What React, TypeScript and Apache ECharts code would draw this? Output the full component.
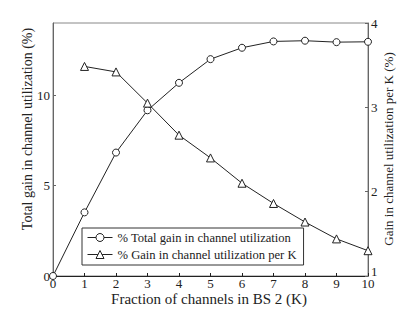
import React, { useEffect, useRef } from "react";
import * as echarts from "echarts";

const xValues = [0, 1, 2, 3, 4, 5, 6, 7, 8, 9, 10];
const totalGain = [0, 3.52, 6.83, 9.17, 10.69, 12.0, 12.63, 12.98, 13.02, 12.94, 12.96];
const gainPerK = [null, 3.485, 3.42, 3.05, 2.67, 2.4, 2.1, 1.86, 1.64, 1.44, 1.3];
const seriesNames = ["% Total gain in channel utilization", "% Gain in channel utilization per K"];
const xTitle = "Fraction of channels in BS 2 (K)";
const yLeftTitle = "Total gain in channel utilization (%)";
const yRightTitle = "Gain in channel utilization per K (%)";

const FONT = "Liberation Serif";

export default function App() {
  const ref = useRef<HTMLDivElement>(null);
  useEffect(() => {
    if (!ref.current) return;
    const chart = echarts.init(ref.current, null, { renderer: "svg" });
    const axisLine = { lineStyle: { color: "#666", width: 1 } };
    chart.setOption({
      animation: false,
      backgroundColor: "#fff",
      textStyle: { fontFamily: FONT },
      grid: { left: 53, right: 39, top: 23, bottom: 34, show: true, borderColor: "#888", borderWidth: 1 },
      xAxis: {
        type: "value",
        min: 0,
        max: 10,
        interval: 1,
        axisLine: { show: true, onZero: false, lineStyle: { color: "#222" } },
        axisTick: { show: true, inside: true, length: 3, lineStyle: { color: "#222" } },
        axisLabel: { fontFamily: FONT, fontSize: 13, color: "#222", margin: 1 },
        splitLine: { show: false },
      },
      yAxis: [
        {
          type: "value",
          min: 0,
          max: 14,
          interval: 5,
          position: "left",
          axisLine: { show: true, ...axisLine },
          axisTick: { show: true, inside: true, length: 3, lineStyle: { color: "#666" } },
          axisLabel: { fontFamily: FONT, fontSize: 13, color: "#222", margin: 3, showMaxLabel: false },
          splitLine: { show: false },
        },
        {
          type: "value",
          min: 1,
          max: 4,
          interval: 1,
          position: "right",
          axisLine: { show: true, ...axisLine },
          axisTick: { show: true, inside: true, length: 3, lineStyle: { color: "#666" } },
          axisLabel: {
            fontFamily: FONT,
            fontSize: 13,
            color: "#222",
            margin: 3,
            formatter: (v: number) => (v === 1 ? "{lo|1}" : String(v)),
            rich: { lo: { fontFamily: FONT, fontSize: 13, color: "#222", padding: [0, 0, 10, 0] } },
          },
          splitLine: { show: false },
        },
      ],
      legend: {
        show: true,
        orient: "vertical",
        left: 82,
        top: 228,
        padding: [2, 7, 3, 5],
        itemGap: 2,
        itemWidth: 25,
        itemHeight: 10,
        itemTextGap: 5,
        borderColor: "#333",
        borderWidth: 1,
        borderRadius: 0,
        backgroundColor: "#fff",
        lineStyle: { width: 1, color: "#222" },
        itemStyle: { color: "#fff", borderColor: "#222", borderWidth: 1 },
        textStyle: { fontFamily: FONT, fontSize: 12.6, lineHeight: 15, color: "#222" },
        data: seriesNames,
      },
      graphic: [
        {
          type: "text",
          x: 209,
          y: 298.5,
          style: { text: xTitle, fontFamily: FONT, fontSize: 15, fill: "#222", align: "center", verticalAlign: "middle" },
        },
        {
          type: "text",
          x: 27,
          y: 129,
          rotation: Math.PI / 2,
          style: { text: yLeftTitle, fontFamily: FONT, fontSize: 14, fill: "#222", align: "center", verticalAlign: "middle" },
        },
        {
          type: "text",
          x: 388,
          y: 149,
          rotation: Math.PI / 2,
          style: { text: yRightTitle, fontFamily: FONT, fontSize: 13, fill: "#222", align: "center", verticalAlign: "middle" },
        },
      ],
      series: [
        {
          name: seriesNames[0],
          type: "line",
          yAxisIndex: 0,
          data: xValues.map((x, i) => [x, totalGain[i]]),
          symbol: "circle",
          symbolSize: 7,
          lineStyle: { color: "#222", width: 1 },
          itemStyle: { color: "#fff", borderColor: "#222", borderWidth: 1 },
        },
        {
          name: seriesNames[1],
          type: "line",
          yAxisIndex: 1,
          data: xValues.map((x, i) => [x, gainPerK[i]]).filter((d) => d[1] !== null),
          symbol: "triangle",
          symbolSize: 8,
          lineStyle: { color: "#222", width: 1 },
          itemStyle: { color: "#fff", borderColor: "#222", borderWidth: 1 },
        },
      ],
    });
    return () => chart.dispose();
  }, []);
  return <div ref={ref} style={{ width: 407, height: 310, position: "absolute", left: 0, top: 0 }} />;
}
